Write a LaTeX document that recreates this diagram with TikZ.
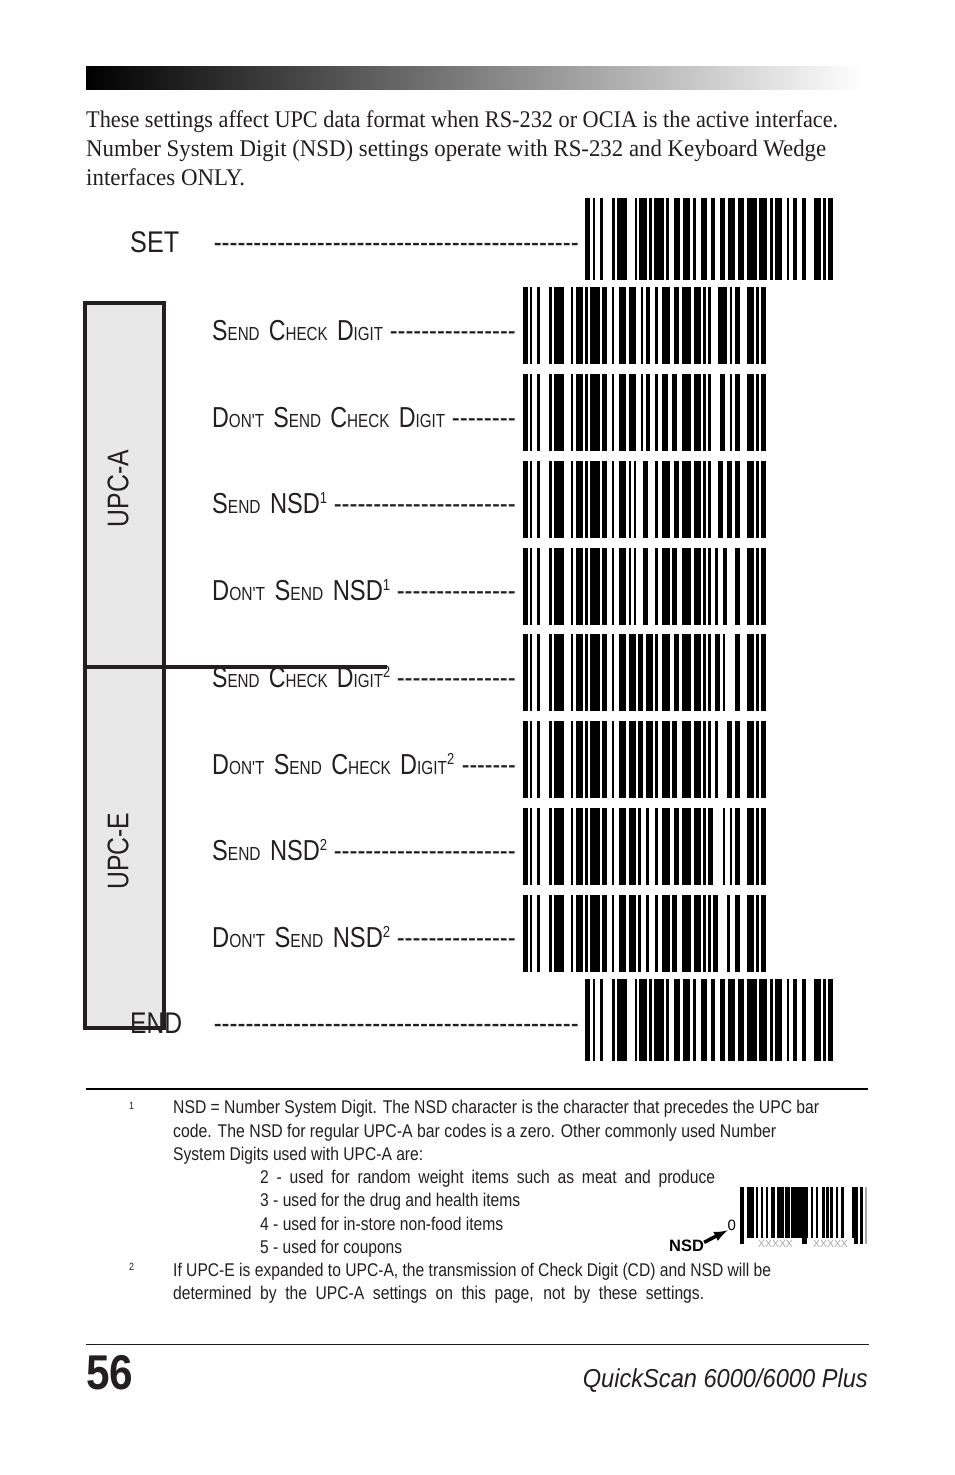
\documentclass[tikz,border=0pt]{standalone}
\usepackage{graphicx}
\usepackage{fontspec}
\setmainfont{Liberation Sans}
\newfontfamily\nar[FakeStretch=0.85]{Liberation Sans}
\newfontfamily\ser{Liberation Serif}
\definecolor{ink}{HTML}{231F20}
\definecolor{panel}{HTML}{E8E8E8}
\newcommand{\fitw}[2]{\resizebox{#1bp}{\height}{#2}}
\newcommand{\Sz}[1]{{\fontsize{19}{19}\selectfont #1}}
\newcommand{\Up}[1]{\raisebox{10bp}{\fontsize{16}{16}\selectfont #1}}
\newcommand{\SCD}{S\Sz{END}\hspace{3bp} C\Sz{HECK}\hspace{3bp} D\Sz{IGIT}}
\newcommand{\DST}{D\Sz{ON'T}\hspace{3bp} S\Sz{END}\hspace{3bp}}
\newcommand{\Bars}[4]{\foreach \a/\b in {#4}{\fill[black] ({#1+\a/3},#2) rectangle ({#1+\b/3},#3);}}
\newcommand{\Lbl}[6]{\node[lbl] (#1) at (212,#2) {\fitw{#3}{\nar\fontsize{29}{29}\selectfont #4}};
 \node[dsh] (#1d) at (516,#2) {\fitw{#5}{\nar\fontsize{29}{29}\selectfont #6}};}
\newcommand{\Foot}[5]{\node[foot] (#1) at (#2,#3) {\fontsize{18.5}{18.5}\selectfont\fitw{#4}{#5}};}
\newcommand{\FootS}[5]{\node[foot] (#1) at (#2,#3) {\fontsize{18.5}{18.5}\selectfont\makebox[#4bp][s]{#5}};}
\newcommand{\SBars}[2]{\Bars{575}{#1}{#2}{30/45,54/60,75/84,111/120,126/156,180/186,192/216,222/231,237/267,273/282,297/315,324/345,354/363,378/396,408/420,435/450,459/480,489/507,516/546,552/576,585/594,600/621,636/642,654/666,681/693,717/738,744/753,759/774}}
\newcommand{\RBars}[2]{\Bars{515}{#1}{#2}{24/39,45/51,66/75,102/111,117/147,168/174,183/204,210/219,225/255,261/276,291/297,660/675,696/717,723/732,738/753}}
\begin{document}
\begin{tikzpicture}[x=1bp,y=-1bp,
 lbl/.style={anchor=base west,inner sep=0,text=ink},
 dsh/.style={anchor=base east,inner sep=0,text=ink},
 foot/.style={anchor=base west,inner sep=0,text=ink,font=\nar},
 body/.style={anchor=base west,inner sep=0,text=ink,font=\ser\fontsize{24}{24}\selectfont},
 side/.style={anchor=center,inner sep=0,text=ink,rotate=90,font=\nar\fontsize{30}{30}\selectfont},
 big/.style={anchor=base west,inner sep=0,text=ink,font=\nar\fontsize{30}{30}\selectfont}]
\useasboundingbox (0,0) rectangle (954,1475);
\fill[white] (0,0) rectangle (954,1475);
\shade[left color=black,right color=white] (86,67) rectangle (862,89.5);
\node[body] (t1) at (86,128) {\fitw{752}{These settings affect UPC data format when RS-232 or OCIA is the active interface.}};
\node[body] (t2) at (86,157) {\fitw{740}{Number System Digit (NSD) settings operate with RS-232 and Keyboard Wedge}};
\node[body] (t3) at (86,186) {\fitw{159}{interfaces ONLY.}};
% sidebar
\fill[panel] (85,303) rectangle (164,1028);
\draw[ink,line width=4.2bp] (85,303) rectangle (164,1028);
\draw[ink,line width=4.5bp] (85,667) -- (387,667);
\node[side] (upca) at (118,488.5) {\fitw{77}{UPC-A}};
\node[side] (upce) at (118,851) {\fitw{77}{UPC-E}};
% main labels
\node[big] (set) at (130,252.5) {\fitw{49}{SET}};
\node[dsh] (setd) at (579,252.5) {\fitw{365}{\nar\fontsize{30}{30}\selectfont ----------------------------------------------}};
\node[big] (endl) at (130,1033) {\fitw{52}{END}};
\node[dsh] (endd) at (579,1033) {\fitw{365}{\nar\fontsize{30}{30}\selectfont ----------------------------------------------}};
\Lbl{a}{340}{171}{\SCD}{126}{----------------}
\Lbl{b}{427}{233}{\DST{} C\Sz{HECK}\hspace{3bp} D\Sz{IGIT}}{64}{--------}
\Lbl{c}{513}{115}{S\Sz{END}\hspace{3bp} NSD\Up{1}}{182}{-----------------------}
\Lbl{d}{600}{178}{\DST{} NSD\Up{1}}{119}{---------------}
\Lbl{e}{687}{178}{\SCD\Up{2}}{119}{---------------}
\Lbl{f}{774}{242}{\DST{} C\Sz{HECK}\hspace{3bp} D\Sz{IGIT}\Up{2}}{54}{-------}
\Lbl{g}{860}{115}{S\Sz{END}\hspace{3bp} NSD\Up{2}}{182}{-----------------------}
\Lbl{h}{947}{178}{\DST{} NSD\Up{2}}{119}{---------------}
% barcodes
\SBars{198}{280}
\SBars{979}{1061}
\RBars{287}{364}
\RBars{374}{451}
\RBars{461}{538}
\RBars{548}{625}
\RBars{634}{711}
\RBars{721}{798}
\RBars{808}{885}
\RBars{895}{972}
\Bars{515}{287}{364}{312/333,342/363,378/384,393/405,420/429,441/465,477/492,501/528,537/558,564/573,579/588,609/636,645/651}
\Bars{515}{374}{451}{312/333,342/363,378/384,393/405,420/429,441/459,471/486,501/528,537/558,564/573,579/588,615/630,645/651}
\Bars{515}{461}{538}{312/333,342/348,357/363,384/399,420/429,441/465,477/492,501/528,537/558,564/573,579/588,609/624,636/651}
\Bars{515}{548}{625}{312/333,342/348,357/363,384/399,420/429,441/465,471/486,501/528,537/558,564/573,579/588,600/609,624/636}
\Bars{515}{634}{711}{312/333,342/363,369/384,393/414,420/429,441/465,477/492,501/528,537/558,564/573,579/588,600/615,624/630}
\Bars{515}{721}{798}{312/333,342/363,369/384,393/414,420/429,441/465,471/486,501/528,537/558,564/573,579/588,600/609,636/651}
\Bars{515}{808}{885}{312/333,342/363,369/378,393/402,420/429,441/465,477/492,501/528,537/558,564/573,579/594,624/630,645/651}
\Bars{515}{895}{972}{312/333,342/363,369/378,393/402,420/429,441/465,471/486,501/528,537/558,564/573,579/588,594/609,636/645}
% rules
\draw[black,line width=2bp] (86,1088.5) -- (868,1088.5);
\draw[ink,line width=1bp] (86,1344) -- (869,1344);
% footnotes
\node[foot] (n1) at (129,1109) {\fontsize{10.5}{10.5}\selectfont 1};
\Foot{f1}{173}{1113}{646}{NSD = Number System Digit.  The NSD character is the character that precedes the UPC bar}
\Foot{f2}{173}{1137}{603}{code.  The NSD for regular UPC-A bar codes is a zero.  Other commonly used Number}
\Foot{f3}{173}{1160}{250}{System Digits used with UPC-A are:}
\FootS{f4}{260}{1183}{455}{2 - used for random weight items such as meat and produce}
\Foot{f5}{260}{1206}{260}{3 - used for the drug and health items}
\Foot{f6}{260}{1230}{243}{4 - used for in-store non-food items}
\Foot{f7}{260}{1253}{142}{5 - used for coupons}
\node[foot] (n2) at (129,1270) {\fontsize{10.5}{10.5}\selectfont 2};
\Foot{f8}{173}{1276}{598}{If UPC-E is expanded to UPC-A, the transmission of Check Digit (CD) and NSD will be}
\FootS{f9}{173}{1299}{531}{determined by the UPC-A settings on this page, not by these settings.}
% small barcode
\foreach \a/\b in {747/754,756/758,761/763,766/768,771/775,777/784,785/790,791/803,804/808,811/813,816/818,822/825,826/829,830/833,836/838,841/844,852/854}{\fill[black] (\a,1187) rectangle (\b,1238);}
\foreach \a/\b in {740/744,802/807,854/858,860/863}{\fill[black] (\a,1187) rectangle (\b,1244);}
\fill[gray!70] (865,1187) rectangle (867,1244);
\node[inner sep=0,text=gray!70,font=\fontsize{10.5}{10.5}\selectfont] (x1) at (775.5,1244) {XXXXX};
\node[inner sep=0,text=gray!70,font=\fontsize{10.5}{10.5}\selectfont] (x2) at (830.5,1244) {XXXXX};
\node[anchor=base west,inner sep=0,text=black,font=\fontsize{15}{15}\selectfont] (zero) at (727.5,1230) {0};
\node[anchor=base west,inner sep=0,text=black,font=\bfseries\fontsize{16.5}{16.5}\selectfont] (nsd) at (669,1251) {NSD};
\coordinate (ntail) at ([yshift=-3bp]nsd.north east);
\draw[-latex,black,line width=3.5bp] (ntail) -- (zero.south west);
% footer
\node[anchor=base west,inner sep=0,text=ink,font=\bfseries\fontsize{49}{49}\selectfont] (pg) at (86,1389) {\fitw{47}{56}};
\node[anchor=base east,inner sep=0,text=ink,font=\itshape\fontsize{26}{26}\selectfont] (qs) at (868,1387) {\fitw{285}{QuickScan 6000/6000 Plus}};
\end{tikzpicture}
\end{document}
